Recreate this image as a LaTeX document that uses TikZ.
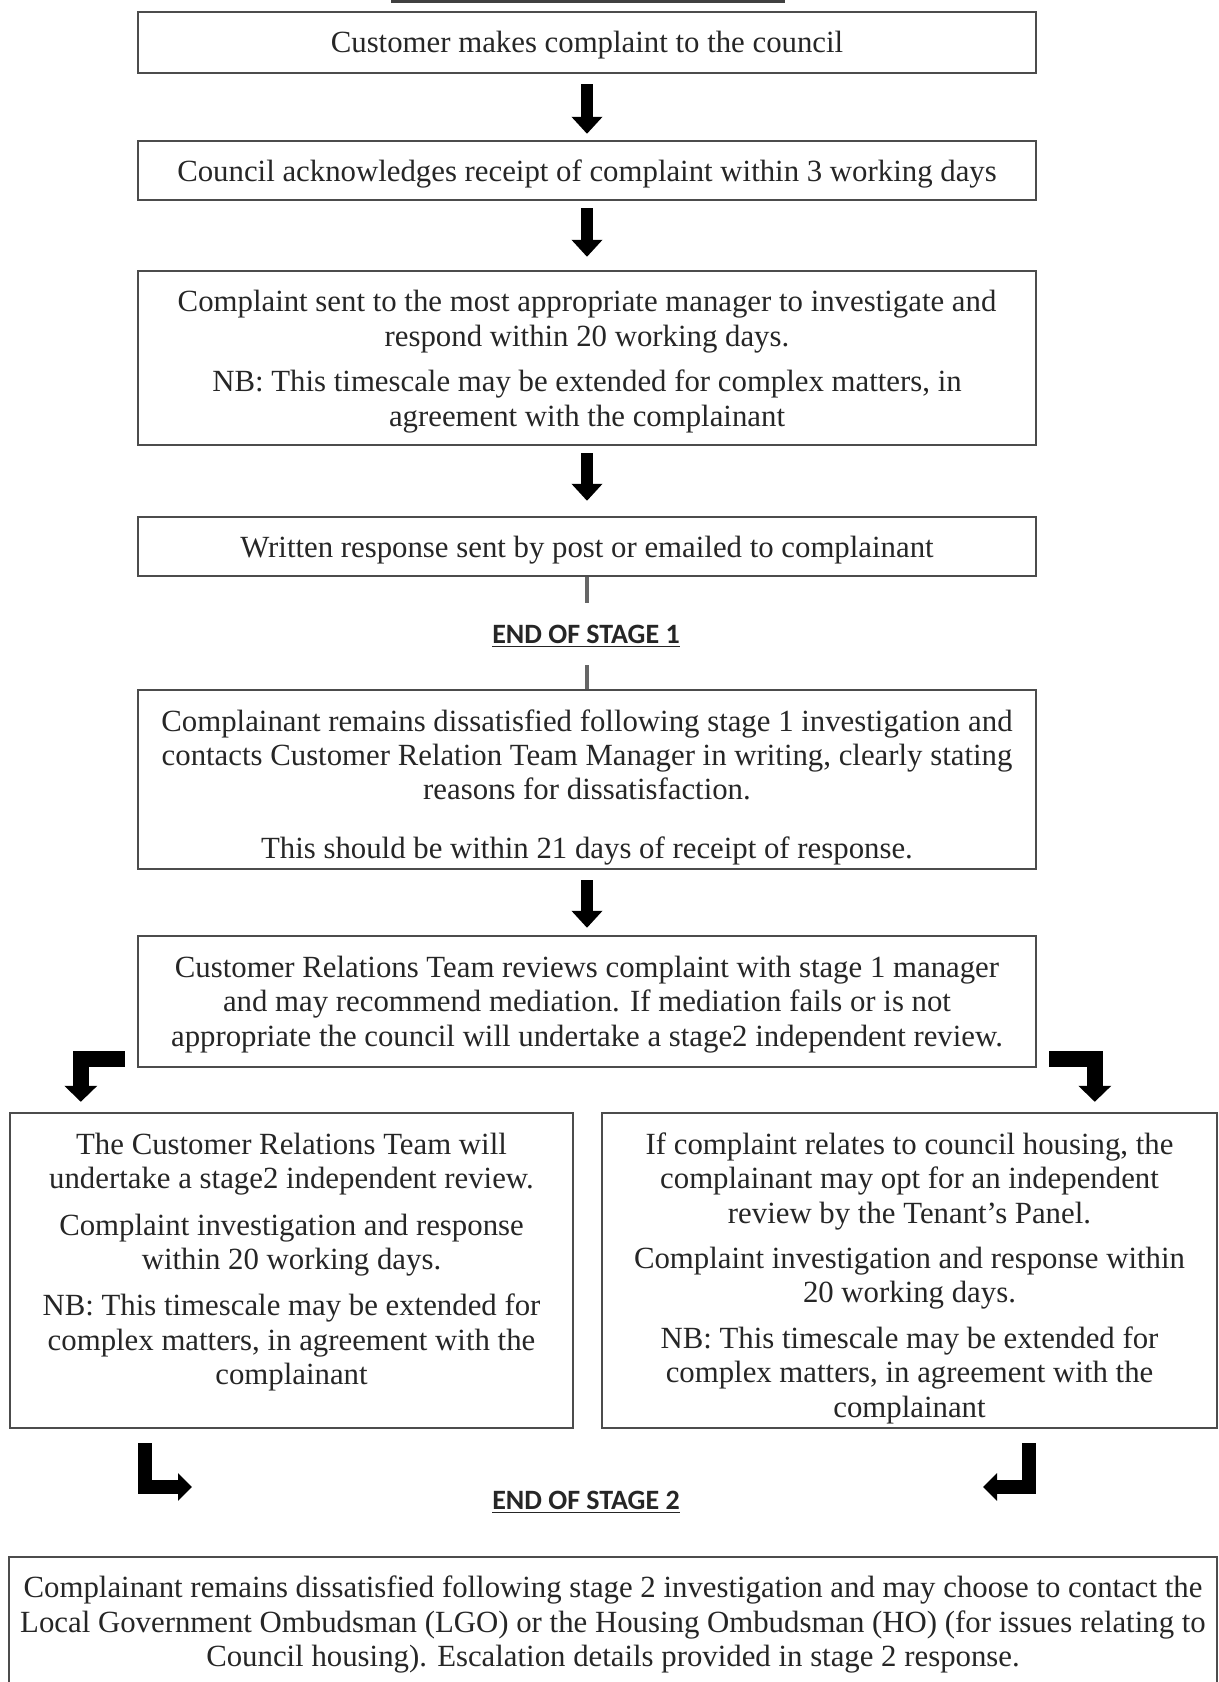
\documentclass[tikz,border=0pt]{standalone}
\usepackage{fontspec}
\setmainfont{Liberation Serif}
\newfontfamily\calfont{Carlito}
\usetikzlibrary{arrows.meta,calc}
\newcommand\pdn[1]{\rule{0pt}{#1}}
\newcommand\pup[1]{\rule[-#1]{0pt}{#1}}
\begin{document}
\begin{tikzpicture}[x=0.5pt,y=-0.5pt,
  box/.style={draw=black!70, line width=1.2pt, rectangle, inner sep=0pt, align=center,
    font=\fontsize{15.4}{17.2}\selectfont, text=black!85},
  endlab/.style={font=\calfont\bfseries\fontsize{14}{16}\selectfont, text=black!85, inner sep=0pt},
  gline/.style={draw=black!60, line width=2pt},
  blk/.style={line width=6pt, -{Triangle[length=8.5pt,width=15pt]}, black},
  elb/.style={line width=8pt, -{Triangle[length=8pt,width=16pt]}, black},
  larr/.style={line width=7pt, -{Triangle[length=7pt,width=13.5pt]}, black}
]
\useasboundingbox[fill=white] (0,0) rectangle (1219,1682);

% cut-off heading underline
\draw[line width=1.2pt, black!75] (391,1.5) -- (785,1.5);

\node[box, minimum width=449pt, minimum height=30.5pt] (b1) at (587,42.5)
  {\pdn{13.7pt}Customer makes complaint to the council};
\node[box, minimum width=449pt, minimum height=29.5pt] (b2) at (587,170.5)
  {\pdn{14.8pt}Council acknowledges receipt of complaint within 3 working days};
\node[box, minimum width=449pt, minimum height=87pt] (b3) at (587,358)
  {\pdn{14.3pt}Complaint sent to the most appropriate manager to investigate and\\
   respond within 20 working days.\\[5.5pt]
   NB: This timescale may be extended for complex matters, in\\
   agreement with the complainant};
\node[box, minimum width=449pt, minimum height=29.5pt] (b4) at (587,546.5)
  {\pdn{14.8pt}Written response sent by post or emailed to complainant};
\node[endlab] (e1) at (586,636) {\underline{END OF STAGE 1}};
\node[box, minimum width=449pt, minimum height=89.5pt] (b5) at (587,779.5)
  {\pdn{18.5pt}Complainant remains dissatisfied following stage 1 investigation and\\
   contacts Customer Relation Team Manager in writing, clearly stating\\
   reasons for dissatisfaction.\\[12pt]
   This should be within 21 days of receipt of response.};
\node[box, minimum width=449pt, minimum height=65.5pt] (b6) at (587,1001.5)
  {\pdn{13.5pt}Customer Relations Team reviews complaint with stage 1 manager\\
   and may recommend mediation. If mediation fails or is not\\
   appropriate the council will undertake a stage2 independent review.};
\node[box, minimum width=281.5pt, minimum height=157.5pt] (lb) at (291.5,1270.5)
  {The Customer Relations Team will\\
   undertake a stage2 independent review.\\[6pt]
   Complaint investigation and response\\
   within 20 working days.\\[6pt]
   NB: This timescale may be extended for\\
   complex matters, in agreement with the\\
   complainant\pup{11.8pt}};
\node[box, minimum width=307.5pt, minimum height=157.5pt] (rb) at (909.5,1270.5)
  {\pdn{18.5pt}If complaint relates to council housing, the\\
   complainant may opt for an independent\\
   review by the Tenant's Panel.\\[5.5pt]
   Complaint investigation and response within\\
   20 working days.\\[5.5pt]
   NB: This timescale may be extended for\\
   complex matters, in agreement with the\\
   complainant};
\node[endlab] (e2) at (586,1502) {\underline{END OF STAGE 2}};
\node[box, minimum width=604pt, minimum height=65pt] (b7) at (613,1622)
  {\pdn{13.5pt}Complainant remains dissatisfied following stage 2 investigation and may choose to contact the\\
   Local Government Ombudsman (LGO) or the Housing Ombudsman (HO) (for issues relating to\\
   Council housing). Escalation details provided in stage 2 response.};

\coordinate (c1) at (587,603);
\coordinate (c2) at (587,665);
\coordinate (t1) at (192,1487);
\coordinate (t2) at (983,1487);

% straight block arrows
\draw[blk] ($(b1.south)+(0,10)$) -- ($(b2.north)+(0,-6)$);
\draw[blk] ($(b2.south)+(0,7)$) -- ($(b3.north)+(0,-13)$);
\draw[blk] ($(b3.south)+(0,7)$) -- ($(b4.north)+(0,-15)$);
\draw[blk] ($(b5.south)+(0,10)$) -- ($(b6.north)+(0,-7)$);

% thin connectors around END OF STAGE 1
\draw[gline] (b4.south) -- (c1);
\draw[gline] (c2) -- (b5.north);

% elbow arrows from b6
\draw[elb] ($(b6.south west)+(-12,-9)$) -| ($(lb.north west)+(72,-10)$);
\draw[elb] ($(b6.south east)+(12,-9)$) -| ($(rb.north west)+(494,-10)$);

% L arrows toward end of stage 2
\draw[larr] ($(lb.south west)+(136,14)$) |- (t1);
\draw[larr] ($(rb.south west)+(428,14)$) |- (t2);
\end{tikzpicture}
\end{document}
